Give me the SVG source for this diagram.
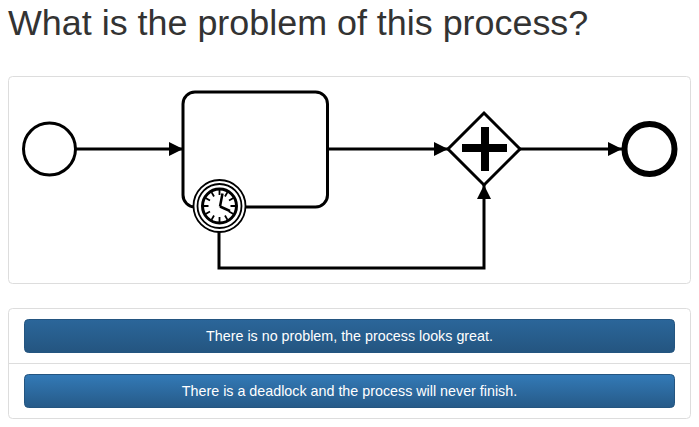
<svg xmlns="http://www.w3.org/2000/svg" width="699" height="427" viewBox="0 0 699 427">
<style>
text{font-family:"Liberation Sans",Arial,sans-serif}
.panel{fill:#fff;stroke:#ddd;stroke-width:1}
.ln{fill:none;stroke:#000;stroke-width:3}
.shape{fill:#fff;stroke:#000;stroke-width:3}
.btn{stroke:#245580;stroke-width:1}
.lbl{fill:#fff;font-size:14.300px;text-anchor:middle}
</style>
<defs>
<linearGradient id="g1" x1="0" y1="0" x2="0" y2="1"><stop offset="0" stop-color="#337ab7"/><stop offset="1" stop-color="#265a88"/></linearGradient>
<linearGradient id="g2" x1="0" y1="0" x2="0" y2="1"><stop offset="0" stop-color="#2b669a"/><stop offset="1" stop-color="#245580"/></linearGradient>
<marker id="arr" markerUnits="userSpaceOnUse" markerWidth="16" markerHeight="16" refX="15" refY="8" orient="auto"><path d="M1 1L15 8L1 15Z" fill="#000"/></marker>
</defs>
<rect width="699" height="427" fill="#fff"/>
<text x="8" y="35" font-size="35.880" fill="#333">What is the problem of this process?</text>
<rect class="panel" x="8.500" y="76.500" width="682" height="207" rx="4"/>
<g id="connectors">
<path class="ln" d="M76 149H183" marker-end="url(#arr)"/>
<path class="ln" d="M328 149H448" marker-end="url(#arr)"/>
<path class="ln" d="M520 149H622" marker-end="url(#arr)"/>
<path class="ln" d="M219 232V268H484V185" marker-end="url(#arr)"/>
</g>
<g id="start"><circle class="shape" cx="49.500" cy="149" r="26"/></g>
<g id="task"><rect class="shape" x="183" y="92" width="144.500" height="115" rx="12"/></g>
<g id="timer" transform="translate(0.500 0)">
<circle cx="219" cy="206" r="26" fill="#fff" stroke="#000" stroke-width="1.800"/>
<circle cx="219" cy="206" r="22" fill="#fff" stroke="#000" stroke-width="1.800"/>
<circle cx="219" cy="206" r="17" fill="#fff" stroke="#000" stroke-width="3"/>
<path d="M219 190v5M219 217v5M203 206h5M230 206h5M211 192.100l2.500 4.400M224.500 215.500l2.500 4.400M205.100 198l4.400 2.500M228.500 211.500l4.400 2.500M205.100 214l4.400-2.500M228.500 200.500l4.400-2.500M211 219.900l2.500-4.400M224.500 196.500l2.500-4.400" stroke="#000" stroke-width="1.800" fill="none"/>
<path d="M219.500 206.500L222 193.500M219.500 206.500L229.500 211" stroke="#000" stroke-width="2.500" fill="none"/>
</g>
<g id="gateway">
<path class="shape" d="M484 113L520 149L484 185L448 149Z"/>
<path d="M481 127h8v17h18v8h-18v19h-8v-19h-19v-8h19z" fill="#000"/>
</g>
<g id="end"><circle cx="649.500" cy="149" r="25" fill="#fff" stroke="#000" stroke-width="6"/></g>
<g id="answers">
<rect class="panel" x="8.500" y="308.500" width="682" height="110" rx="4"/>
<path d="M9 363.500H690" stroke="#ddd" stroke-width="1"/>
<g id="answer1"><rect class="btn" x="24.500" y="319.500" width="650" height="33" rx="4" fill="url(#g2)"/>
<text class="lbl" x="349.500" y="341">There is no problem, the process looks great.</text></g>
<g id="answer2"><rect class="btn" x="24.500" y="374.500" width="650" height="33" rx="4" fill="url(#g1)"/>
<text class="lbl" x="349.500" y="396">There is a deadlock and the process will never finish.</text></g>
</g>
</svg>
